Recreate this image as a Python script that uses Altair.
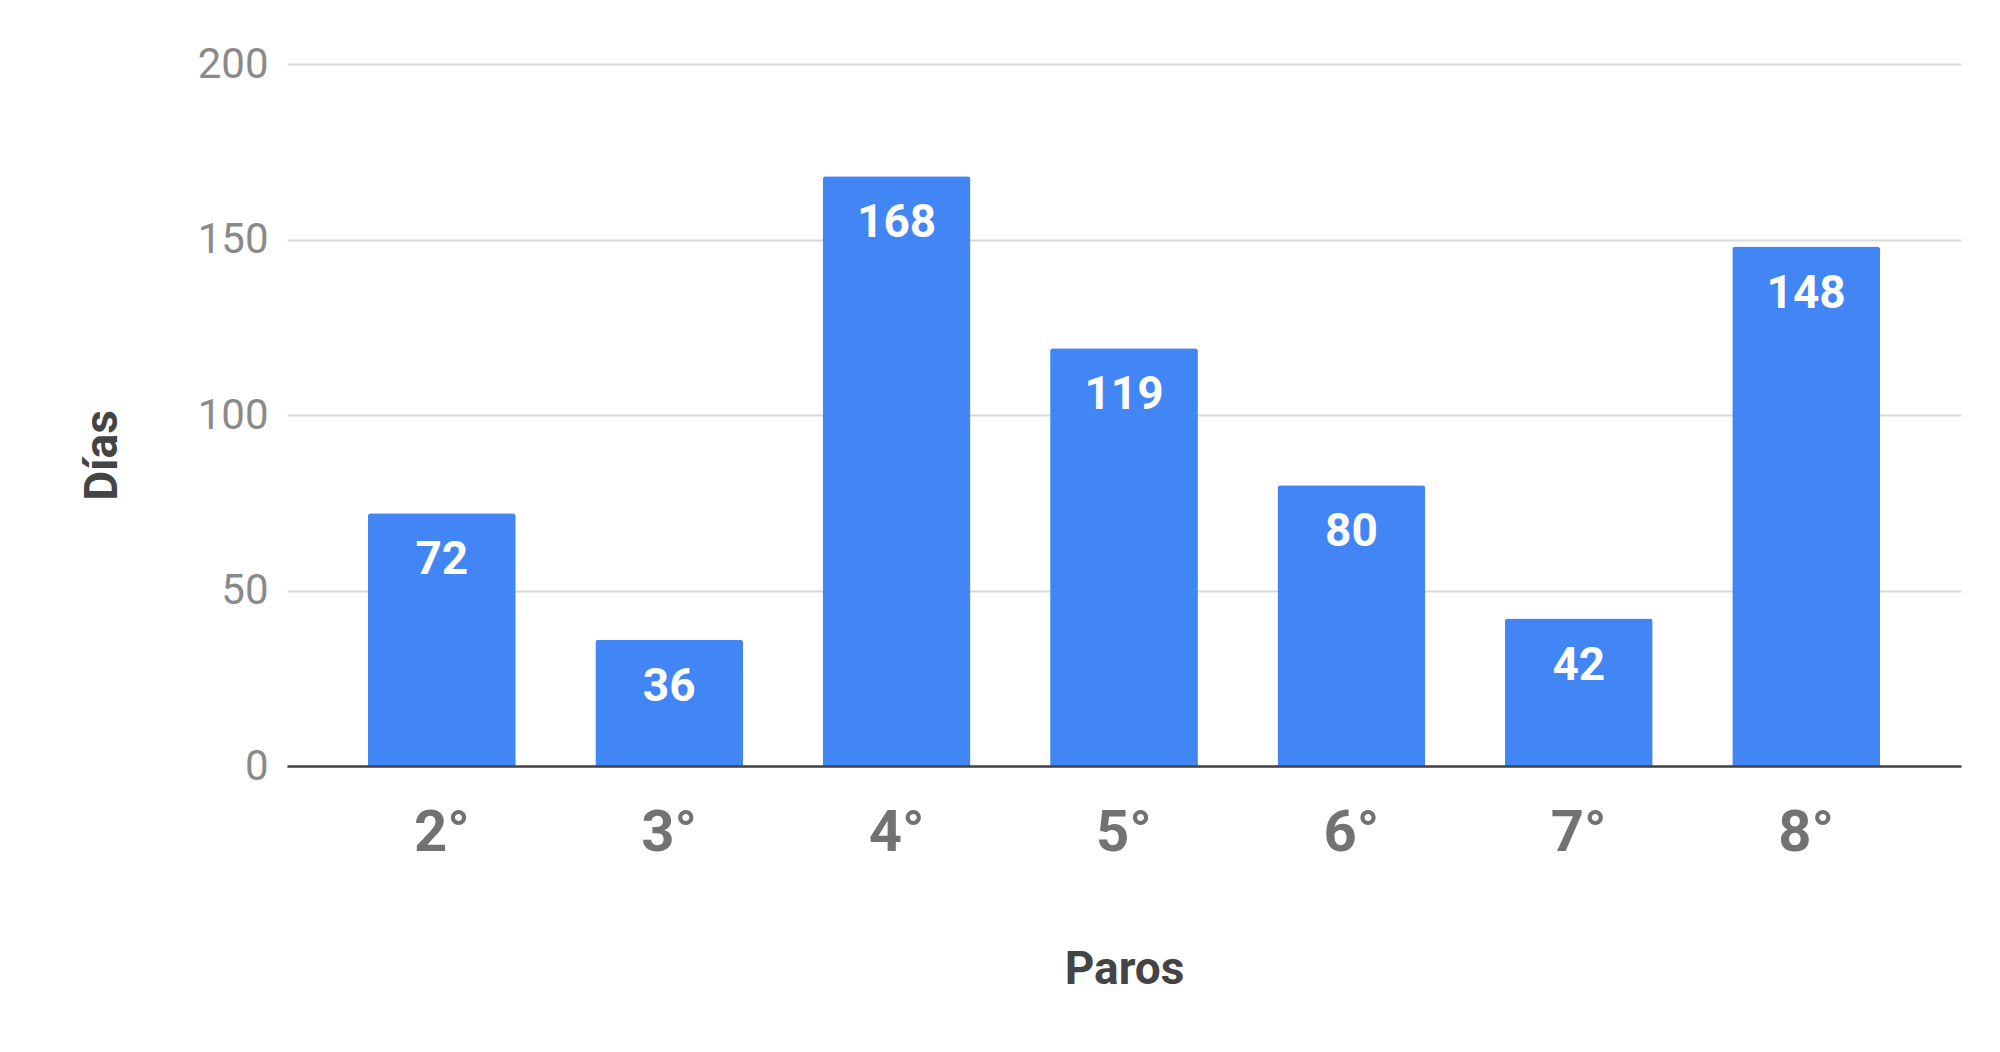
import altair as alt
import pandas as pd

paros = ["2°", "3°", "4°", "5°", "6°", "7°", "8°"]
dias = [72, 36, 168, 119, 80, 42, 148]
y_ticks = [0, 50, 100, 150, 200]

df = pd.DataFrame({"Paros": paros, "Días": dias})

x_enc = alt.X(
    "Paros:N",
    sort=None,
    scale=alt.Scale(paddingInner=0.35, paddingOuter=0.356),
    axis=alt.Axis(
        title="Paros",
        labelAngle=0,
        labelFont="Roboto",
        labelFontSize=58,
        labelFontWeight="bold",
        labelColor="#727272",
        labelPadding=38,
        ticks=False,
        tickSize=0,
        domain=True,
        domainColor="#444444",
        domainWidth=2.5,
        grid=False,
        titleFont="Roboto",
        titleFontSize=46,
        titleFontWeight="bold",
        titleColor="#444444",
        titleY=217,
        titleBaseline="alphabetic",
        zindex=1,
    ),
)

y_enc = alt.Y(
    "Días:Q",
    scale=alt.Scale(domain=[0, 200], nice=False),
    axis=alt.Axis(
        title="Días",
        values=y_ticks,
        labelFont="Roboto",
        labelFontSize=42,
        labelColor="#8a8a8a",
        labelPadding=19,
        ticks=False,
        tickSize=0,
        domain=False,
        grid=True,
        gridColor="#d9d9d9",
        gridWidth=2,
        titleFont="Roboto",
        titleFontSize=46,
        titleFontWeight="bold",
        titleColor="#444444",
        titleAngle=270,
        titleAlign="center",
        titleBaseline="middle",
        titleX=-185,
        titleY=391,
        zindex=0,
    ),
)

bars = alt.Chart(df).mark_bar(
    color="#4285f4",
    cornerRadiusTopLeft=3,
    cornerRadiusTopRight=3,
).encode(x=x_enc, y=y_enc)

labels = alt.Chart(df).mark_text(
    color="white",
    font="Roboto",
    fontSize=46,
    fontWeight="bold",
    baseline="middle",
    align="center",
    dy=47,
).encode(x=alt.X("Paros:N", sort=None), y=alt.Y("Días:Q"), text=alt.Text("Días:Q"))

chart = (
    alt.layer(bars, labels)
    .properties(
        width=1674,
        height=702,
        autosize=alt.AutoSizeParams(type="none"),
        padding={"left": 279, "top": 56, "right": 31, "bottom": 268},
        background="white",
    )
    .configure_view(stroke=None)
)

chart.save("out.html", embed_options={"renderer": "svg", "actions": False})
